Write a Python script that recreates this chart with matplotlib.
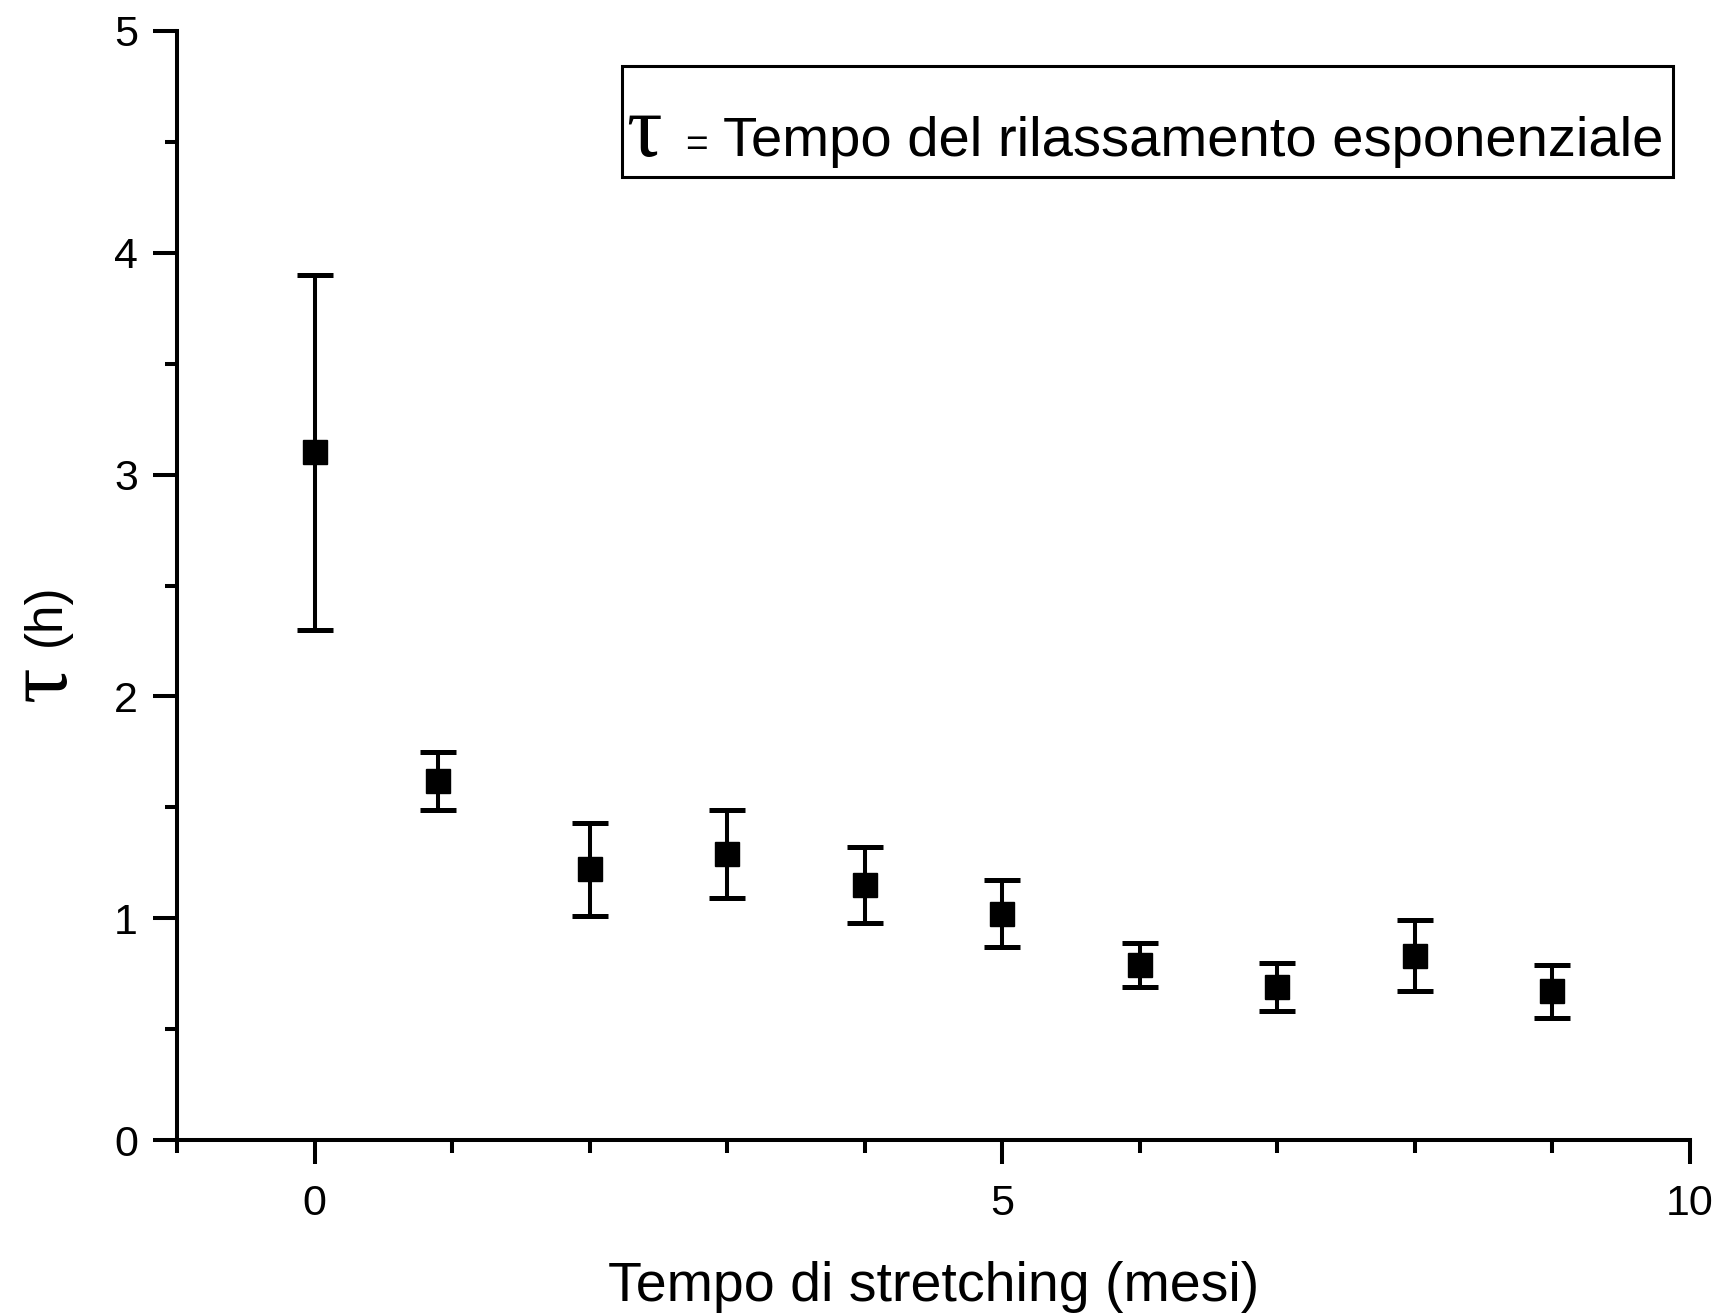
import numpy as np
import matplotlib
matplotlib.use("Agg")
import matplotlib.pyplot as plt
from matplotlib.ticker import MultipleLocator

plt.rcParams['font.family'] = ['Liberation Sans', 'DejaVu Sans']

# dati
mesi = [0, 0.9, 2, 3, 4, 5, 6, 7, 8, 9]
tau = [3.10, 1.62, 1.22, 1.29, 1.15, 1.02, 0.79, 0.69, 0.83, 0.67]
err = [0.80, 0.13, 0.21, 0.20, 0.17, 0.15, 0.10, 0.11, 0.16, 0.12]

fig = plt.figure(figsize=(17.35, 13.15), dpi=100)
# axes in pixel: left 177, right 1690, top 31, bottom 1140
ax = fig.add_axes([177 / 1735, 1 - 1140 / 1315, 1513 / 1735, 1109 / 1315])

ax.errorbar(mesi, tau, yerr=err, fmt='s', color='black', ms=17,
            elinewidth=2.9, capsize=13, capthick=3.6, ecolor='black')

ax.set_xlim(-1, 10)
ax.set_ylim(0, 5)
ax.xaxis.set_major_locator(MultipleLocator(5))
ax.xaxis.set_minor_locator(MultipleLocator(1))
ax.yaxis.set_major_locator(MultipleLocator(1))
ax.yaxis.set_minor_locator(MultipleLocator(0.5))

for s in ['top', 'right']:
    ax.spines[s].set_visible(False)
for s in ['left', 'bottom']:
    ax.spines[s].set_linewidth(2.9)
    ax.spines[s].set_capstyle('projecting')

ax.tick_params(which='major', direction='out', length=17, width=2.9, labelsize=31)
ax.tick_params(which='minor', direction='out', length=9, width=2.9)
ax.tick_params(axis='y', which='major', pad=11)
ax.tick_params(axis='x', which='major', pad=15)

ax.set_xlabel('Tempo di stretching (mesi)', fontsize=40, labelpad=26)

# etichetta asse y: tau grande + (h)
fig.text(44 / 1735, 1 - 684 / 1315, 'τ', family=['Liberation Serif', 'DejaVu Serif'],
         fontsize=64, rotation=90, ha='center', va='center')
fig.text(46 / 1735, 1 - 615 / 1315, '(h)', fontsize=37, rotation=90,
         ha='center', va='center')

# riquadro legenda
rect = plt.Rectangle((0.294, 0.868), 0.695, 0.100, transform=ax.transAxes,
                     fill=False, lw=2.2, edgecolor='black')
ax.add_patch(rect)
ax.text(0.297, 0.887, 'τ', transform=ax.transAxes, fontsize=64,
        family=['Liberation Serif', 'DejaVu Serif'], ha='left', va='baseline')
ax.text(0.336, 0.887, '=', transform=ax.transAxes, fontsize=28,
        ha='left', va='baseline')
ax.text(0.361, 0.887, 'Tempo del rilassamento esponenziale', transform=ax.transAxes,
        fontsize=40.5, ha='left', va='baseline')

fig.savefig('out.png', dpi=100)
